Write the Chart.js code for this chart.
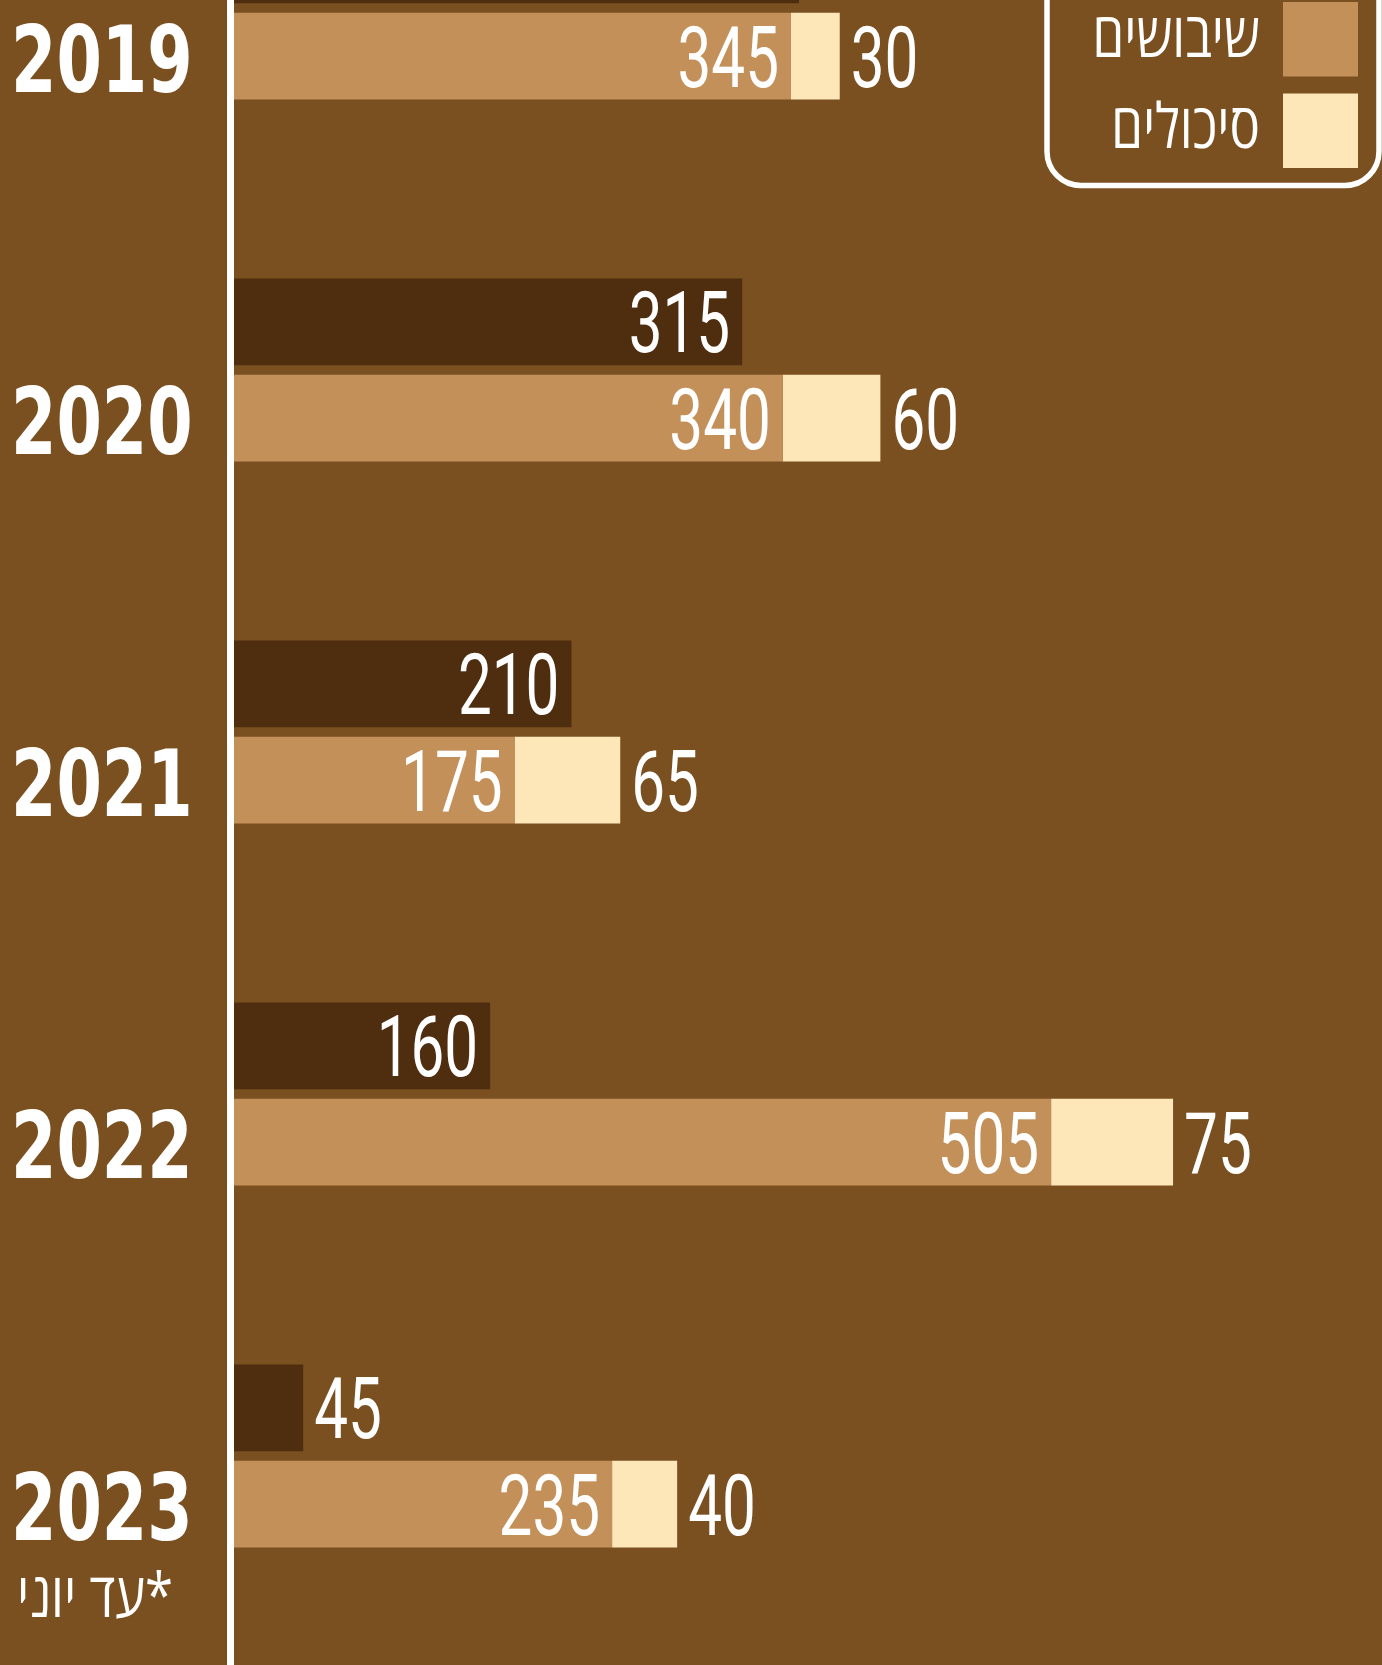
<!DOCTYPE html>
<html lang="he">
<head>
<meta charset="utf-8">
<title>שיבושים וסיכולים</title>
<script src="https://cdn.jsdelivr.net/npm/chart.js@4/dist/chart.umd.min.js"></script>
<style>
  html, body { margin: 0; padding: 0; background: #7a5020; }
  #wrap { position: relative; width: 1382px; height: 1665px; }
</style>
</head>
<body>
<div id="wrap"><canvas id="chart"></canvas></div>
<script>
// values; 2019 top bar is cut off by the crop, so its value is estimated
const YEARS = ['2019', '2020', '2021', '2022', '2023'];
const ATTACKS = [350, 315, 210, 160, 45];
const DISRUPTIONS = [345, 340, 175, 505, 235];
const THWARTED = [30, 60, 65, 75, 40];
const SERIES_LABELS = ['פיגועים', 'שיבושים', 'סיכולים'];
const YEAR_NOTE = '*עד יוני';

const COLORS = ['#4f2d0f', '#c4905a', '#fde7b9'];
const STACKS = ['top', 'bottom', 'bottom'];
const SERIES = [ATTACKS, DISRUPTIONS, THWARTED];

const NUM_FONT = '400 86px Roboto';
const NUM_SQUEEZE = 0.7;
const YEAR_FONT = '700 93px "DejaVu Sans Condensed", "DejaVu Sans", sans-serif';
const YEAR_SQUEEZE = 0.78;
const HEB_FONT = '500 62px "Open Sans", "DejaVu Sans", sans-serif';

// y range: category 0 sits 8px below the top edge, 362px between categories
const Y_MIN = -0.0221;
const Y_MAX = 4.5773;

const datasets = SERIES.map((vals, k) => ({
  label: SERIES_LABELS[k],
  data: vals.map((v, i) => ({ x: v, y: i })),
  backgroundColor: COLORS[k],
  stack: STACKS[k],
  borderWidth: 0,
  categoryPercentage: 0.5315,
  barPercentage: 0.9,
}));

// numbers on/next to bars, drawn narrow like the original condensed face
const valueLabels = {
  id: 'valueLabels',
  afterDatasetsDraw(chart) {
    const { ctx } = chart;
    ctx.save();
    ctx.font = NUM_FONT;
    ctx.fillStyle = '#ffffff';
    ctx.textBaseline = 'alphabetic';
    const capHalf = 86 * 0.711 / 2;
    chart.data.datasets.forEach((ds, di) => {
      chart.getDatasetMeta(di).data.forEach((bar, i) => {
        const txt = String(ds.data[i].x);
        const w = ctx.measureText(txt).width * NUM_SQUEEZE;
        const inside = di < 2 && (bar.x - bar.base) > w + 26;
        const x = inside ? bar.x - 12 : bar.x + 11;
        ctx.save();
        ctx.translate(x, bar.y + capHalf);
        ctx.scale(NUM_SQUEEZE, 1);
        ctx.textAlign = inside ? 'right' : 'left';
        ctx.fillText(txt, 0, 0);
        ctx.restore();
      });
    });
    ctx.restore();
  },
};

// year tick labels: heavy condensed type, left aligned, level with the lower bar
const yearLabels = {
  id: 'yearLabels',
  afterDraw(chart) {
    const { ctx } = chart;
    const ys = chart.scales.y;
    ctx.save();
    ctx.font = YEAR_FONT;
    ctx.fillStyle = '#ffffff';
    ctx.textAlign = 'left';
    ctx.textBaseline = 'alphabetic';
    ys.ticks.forEach((t, i) => {
      const cap = 93 * 0.729;
      ctx.save();
      ctx.translate(11, ys.getPixelForTick(i) + 50 + cap / 2);
      ctx.scale(YEAR_SQUEEZE, 1);
      ctx.fillText(YEARS[t.value], 0, 0);
      ctx.restore();
    });

    // "*עד יוני" note under the last year
    ctx.font = HEB_FONT;
    ctx.textBaseline = 'middle';
    ctx.direction = 'rtl';
    ctx.textAlign = 'right';
    ctx.translate(173, ys.getPixelForTick(ys.ticks.length - 1) + 143);
    ctx.scale(0.82, 1);
    ctx.fillText(YEAR_NOTE, 0, 0);
    ctx.restore();
  },
};

// legend box in the top-right corner (partly cropped in the original)
const cornerLegend = {
  id: 'cornerLegend',
  afterDraw(chart) {
    const { ctx } = chart;
    const dsets = chart.data.datasets;
    ctx.save();
    ctx.strokeStyle = '#ffffff';
    ctx.lineWidth = 5.5;
    ctx.beginPath();
    ctx.roundRect(1047, -200, 332, 385.5, 34);
    ctx.stroke();

    ctx.font = HEB_FONT;
    ctx.textBaseline = 'middle';
    ctx.direction = 'rtl';
    ctx.textAlign = 'right';
    for (let k = dsets.length - 1, row = 0; k >= 0; k--, row++) {
      const top = 93.5 - row * 91.5;
      ctx.fillStyle = dsets[k].backgroundColor;
      ctx.fillRect(1283, top, 75, 74.5);
      ctx.save();
      ctx.translate(1260, top + 37);
      ctx.scale(0.82, 1);
      ctx.fillStyle = '#ffffff';
      ctx.fillText(dsets[k].label, 0, 0);
      ctx.restore();
    }
    ctx.restore();
  },
};

new Chart(document.getElementById('chart').getContext('2d'), {
  type: 'bar',
  data: { datasets },
  options: {
    indexAxis: 'y',
    responsive: true, maintainAspectRatio: false,
    animation: false,
    layout: { autoPadding: false, padding: { left: 11, right: 0, top: 0, bottom: 0 } },
    plugins: { legend: { display: false }, tooltip: { enabled: false } },
    scales: {
      x: { type: 'linear', min: 0, max: 708.5, stacked: true, display: false },
      y: {
        type: 'linear',
        reverse: true,
        offset: false,
        bounds: 'data',
        min: Y_MIN, max: Y_MAX,
        afterBuildTicks: s => {
          s.ticks = YEARS.map((_, i) => ({ value: i }));
          s.min = Y_MIN;
          s.max = Y_MAX;
        },
        afterFit: s => { s.width = 219; },
        grid: { display: false, drawTicks: false },
        border: { display: true, color: '#ffffff', width: 7, z: 1 },
        ticks: { display: false, callback: v => YEARS[v] },
      },
    },
  },
  plugins: [valueLabels, yearLabels, cornerLegend],
});
</script>
</body>
</html>
